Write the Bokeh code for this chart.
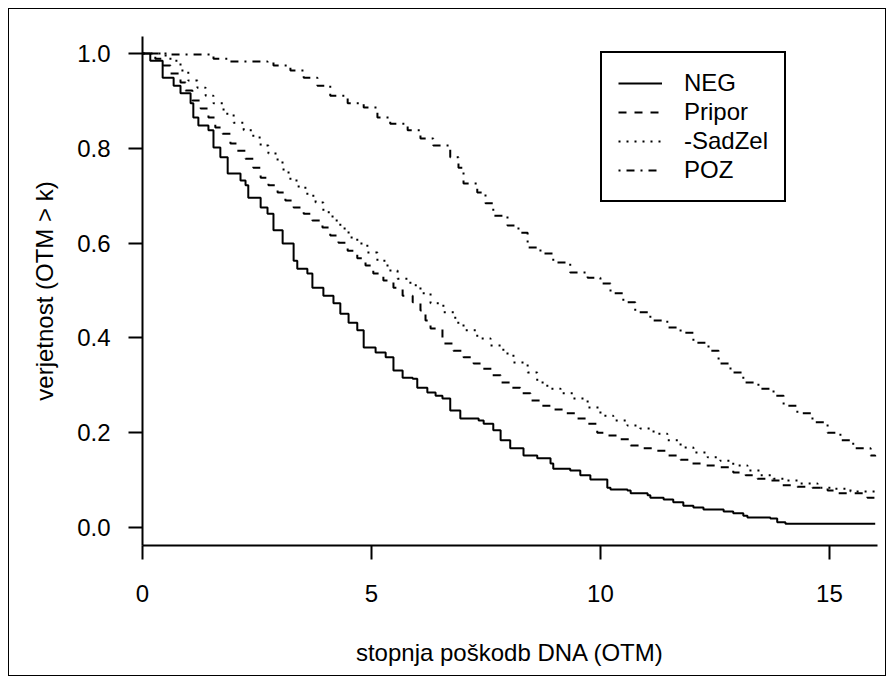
from bokeh.plotting import figure
from bokeh.models import Range1d, FixedTicker, Legend, LegendItem
from bokeh.embed import file_html
from bokeh.resources import INLINE

# ---- data ----
neg_x = [0, 0.17, 0.44, 0.68, 0.83, 1.05, 1.11, 1.22, 1.44, 1.55, 1.70, 1.86, 2.14, 2.25, 2.31,
         2.58, 2.73, 2.86, 3.06, 3.30, 3.38, 3.60, 3.71, 3.95, 4.17, 4.32, 4.50, 4.69, 4.83, 5.09,
         5.31, 5.48, 5.68, 5.90, 6.00, 6.22, 6.40, 6.55, 6.72, 6.94, 7.34, 7.45, 7.66, 7.82, 8.03,
         8.32, 8.62, 8.91, 8.97, 9.34, 9.56, 9.78, 10.15, 10.22, 10.59, 10.66, 11.03, 11.09, 11.38,
         11.59, 11.81, 12.03, 12.25, 12.69, 12.90, 13.12, 13.21, 13.71, 13.86, 14.04, 16.0]
neg_y = [1.0, 0.985, 0.949, 0.932, 0.916, 0.895, 0.865, 0.848, 0.838, 0.802, 0.781, 0.747, 0.732,
         0.722, 0.696, 0.675, 0.662, 0.627, 0.599, 0.563, 0.546, 0.536, 0.506, 0.489, 0.473, 0.451,
         0.432, 0.416, 0.380, 0.369, 0.359, 0.331, 0.316, 0.314, 0.295, 0.285, 0.278, 0.272, 0.247,
         0.230, 0.226, 0.219, 0.205, 0.184, 0.167, 0.152, 0.146, 0.135, 0.124, 0.120, 0.110, 0.101,
         0.084, 0.080, 0.078, 0.072, 0.068, 0.063, 0.059, 0.053, 0.046, 0.042, 0.038, 0.034, 0.030,
         0.025, 0.021, 0.019, 0.011, 0.008, 0.008]

pripor_x = [0, 0.28, 0.46, 0.61, 0.83, 0.94, 1.09, 1.27, 1.44, 1.59, 1.75, 1.92, 2.07, 2.25, 2.42,
            2.58, 2.75, 2.95, 3.12, 3.30, 3.52, 3.71, 3.93, 4.10, 4.28, 4.48, 4.69, 4.87, 5.04, 5.26,
            5.48, 5.68, 5.90, 6.07, 6.18, 6.29, 6.55, 6.79, 7.01, 7.23, 7.42, 7.64, 7.82, 8.03, 8.25,
            8.47, 8.69, 8.95, 9.24, 9.50, 9.72, 9.93, 10.15, 10.39, 10.66, 10.92, 11.20, 11.46,
            11.75, 12.01, 12.29, 12.62, 12.90, 13.17, 13.43, 13.65, 13.93, 14.30, 14.63, 14.96,
            15.20, 15.52, 15.83, 16.0]
pripor_y = [1.0, 0.989, 0.975, 0.958, 0.939, 0.922, 0.901, 0.884, 0.865, 0.844, 0.831, 0.810, 0.795,
            0.778, 0.759, 0.738, 0.722, 0.707, 0.690, 0.675, 0.662, 0.648, 0.633, 0.616, 0.601,
            0.584, 0.568, 0.553, 0.536, 0.521, 0.506, 0.489, 0.475, 0.458, 0.437, 0.420, 0.388,
            0.373, 0.359, 0.346, 0.335, 0.321, 0.306, 0.295, 0.283, 0.268, 0.257, 0.249, 0.241,
            0.230, 0.219, 0.200, 0.194, 0.186, 0.173, 0.167, 0.162, 0.152, 0.143, 0.135, 0.131,
            0.127, 0.116, 0.110, 0.103, 0.099, 0.089, 0.086, 0.084, 0.078, 0.072, 0.072, 0.063,
            0.063]

sadzel_x = [0, 0.44, 0.61, 0.83, 1.00, 1.20, 1.38, 1.55, 1.77, 1.99, 2.21, 2.42, 2.58, 2.75, 2.95,
            3.08, 3.23, 3.41, 3.60, 3.78, 3.95, 4.15, 4.32, 4.50, 4.69, 4.91, 5.13, 5.35, 5.57, 5.85,
            6.07, 6.29, 6.57, 6.83, 7.01, 7.31, 7.60, 7.88, 8.10, 8.41, 8.62, 8.84, 9.13, 9.41, 9.72,
            10.0, 10.28, 10.59, 10.87, 11.16, 11.46, 11.75, 12.03, 12.34, 12.62, 12.90, 13.21, 13.49,
            13.78, 14.08, 14.37, 14.74, 15.09, 15.46, 16.0]
sadzel_y = [1.0, 0.996, 0.985, 0.964, 0.943, 0.928, 0.911, 0.895, 0.873, 0.854, 0.838, 0.823, 0.806,
            0.789, 0.770, 0.749, 0.732, 0.717, 0.700, 0.686, 0.665, 0.648, 0.631, 0.612, 0.599,
            0.580, 0.563, 0.542, 0.525, 0.511, 0.494, 0.473, 0.454, 0.432, 0.416, 0.399, 0.384,
            0.367, 0.348, 0.327, 0.306, 0.293, 0.283, 0.272, 0.253, 0.236, 0.226, 0.215, 0.209,
            0.198, 0.184, 0.169, 0.158, 0.148, 0.141, 0.131, 0.120, 0.110, 0.103, 0.099, 0.093,
            0.084, 0.082, 0.076, 0.076]

poz_x = [0, 0.61, 1.55, 1.92, 2.73, 2.86, 3.23, 3.52, 3.82, 4.10, 4.48, 4.83, 5.13, 5.41, 5.79,
         6.07, 6.35, 6.72, 6.90, 7.01, 7.31, 7.49, 7.66, 7.97, 8.21, 8.41, 8.69, 8.97, 9.34, 9.72,
         10.0, 10.22, 10.50, 10.76, 11.09, 11.46, 11.75, 12.03, 12.36, 12.58, 12.84, 13.12, 13.45,
         13.78, 14.00, 14.30, 14.63, 14.96, 15.24, 15.52, 15.90, 16.0]
poz_y = [1.0, 0.998, 0.989, 0.983, 0.981, 0.975, 0.964, 0.949, 0.932, 0.911, 0.895, 0.886, 0.865,
         0.852, 0.838, 0.821, 0.806, 0.781, 0.759, 0.726, 0.707, 0.684, 0.658, 0.637, 0.622, 0.591,
         0.578, 0.559, 0.538, 0.527, 0.515, 0.494, 0.475, 0.454, 0.437, 0.422, 0.411, 0.390, 0.373,
         0.346, 0.327, 0.306, 0.293, 0.278, 0.257, 0.241, 0.222, 0.200, 0.184, 0.167, 0.152, 0.150]

series_labels = ["NEG", "Pripor", "-SadZel", "POZ"]
x_ticks = [0, 5, 10, 15]
y_ticks = [0.0, 0.2, 0.4, 0.6, 0.8, 1.0]
y_tick_labels = ["0.0", "0.2", "0.4", "0.6", "0.8", "1.0"]
x_title = "stopnja poškodb DNA (OTM)"
y_title = "verjetnost (OTM > k)"

FONT = "Liberation Sans"
FS = "24px"

p = figure(width=878, height=668, output_backend="svg", toolbar_location=None,
           x_range=Range1d(0, 16.05), y_range=Range1d(-0.038, 1.036),
           min_border_left=133, min_border_right=10, min_border_top=27, min_border_bottom=132,
           background_fill_color="white", border_fill_color="white")
p.styles = {"margin-left": "8px", "margin-top": "8px", "border": "1px solid black"}
p.outline_line_color = None
p.grid.visible = False

dashes = ["solid", "8 8", "2 6", "2 6 8 6"]
renderers = []
for xs, ys, dash in [(neg_x, neg_y, dashes[0]), (pripor_x, pripor_y, dashes[1]),
                     (sadzel_x, sadzel_y, dashes[2]), (poz_x, poz_y, dashes[3])]:
    r = p.step(xs, ys, mode="after", line_color="black", line_width=2, line_dash=dash)
    renderers.append(r)

for ax in (p.xaxis[0], p.yaxis[0]):
    ax.axis_line_width = 2
    ax.axis_line_color = "black"
    ax.major_tick_line_width = 2
    ax.major_tick_line_color = "black"
    ax.minor_tick_line_color = None
    ax.major_tick_in = 0
    ax.major_tick_out = 14
    ax.major_label_text_font = FONT
    ax.major_label_text_font_size = FS
    ax.major_label_text_color = "black"
    ax.axis_label_text_font = FONT
    ax.axis_label_text_font_size = FS
    ax.axis_label_text_font_style = "normal"
    ax.axis_label_text_color = "black"

p.xaxis.ticker = FixedTicker(ticks=x_ticks)
p.yaxis.ticker = FixedTicker(ticks=y_ticks)
p.yaxis.major_label_overrides = {t: l for t, l in zip(y_ticks, y_tick_labels)}
p.xaxis.major_label_standoff = 25
p.yaxis.major_label_standoff = 18
p.xaxis.axis_label = x_title
p.yaxis.axis_label = y_title
p.xaxis.axis_label_standoff = 34
p.yaxis.axis_label_standoff = 16

legend = Legend(items=[LegendItem(label=l, renderers=[r]) for l, r in zip(series_labels, renderers)],
                location=(458, 343), margin=0, padding=16, spacing=1,
                glyph_width=44, glyph_height=28, label_height=28, label_standoff=22,
                label_text_font=FONT, label_text_font_size=FS, label_text_color="black",
                border_line_color="black", border_line_width=2, border_line_alpha=1.0,
                background_fill_color="white", background_fill_alpha=1.0)
p.add_layout(legend)

open("out.html", "w").write(file_html(p, INLINE))
